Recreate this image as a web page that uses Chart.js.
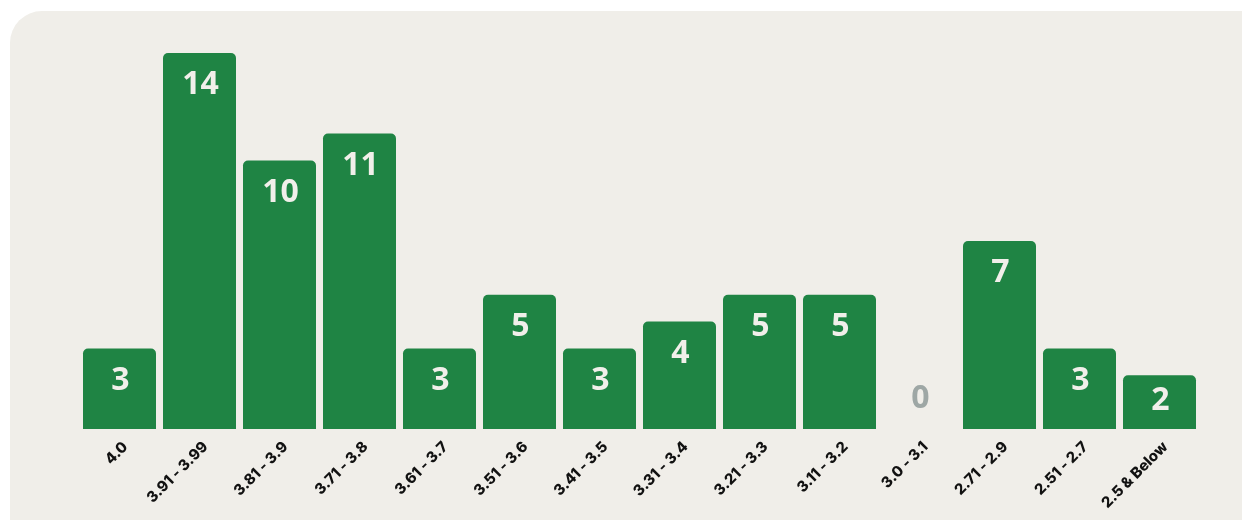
<!DOCTYPE html>
<html>
<head>
<meta charset="utf-8">
<script src="https://cdn.jsdelivr.net/npm/chart.js@4.4.1/dist/chart.umd.min.js"></script>
<style>
  html, body { margin: 0; padding: 0; background: #ffffff; }
  body { width: 1242px; height: 520px; position: relative; overflow: hidden; }
  .panel {
    position: absolute; left: 10px; top: 11px; width: 1270px; height: 540px;
    background: #f0eee9; border-radius: 32px;
  }
  .wrap { position: absolute; left: 0; top: 0; width: 1242px; height: 520px; }
</style>
</head>
<body>
<div class="panel"></div>
<div class="wrap"><canvas id="gpa-chart"></canvas></div>
<script>
// GPA ranges and number of students in each
var categories = ["4.0", "3.91 - 3.99", "3.81 - 3.9", "3.71 - 3.8", "3.61 - 3.7", "3.51 - 3.6",
  "3.41 - 3.5", "3.31 - 3.4", "3.21 - 3.3", "3.11 - 3.2", "3.0 - 3.1", "2.71 - 2.9",
  "2.51 - 2.7", "2.5 & Below"];
var counts = [3, 14, 10, 11, 3, 5, 3, 4, 5, 5, 0, 7, 3, 2];

var GREEN = "#1f8444";

// draws the count inside the top of each bar (grey above the axis when zero)
var valueLabels = {
  id: "valueLabels",
  afterDatasetsDraw: function (chart) {
    var ctx = chart.ctx;
    var meta = chart.getDatasetMeta(0);
    ctx.save();
    ctx.font = "bold 32px 'Open Sans', sans-serif";
    ctx.textAlign = "center";
    ctx.textBaseline = "middle";
    meta.data.forEach(function (bar, i) {
      var v = counts[i];
      if (v === 0) {
        ctx.fillStyle = "#9ea7a5";
        ctx.fillText(String(v), bar.x + 1, bar.base - 30);
      } else {
        ctx.fillStyle = "#f1efea";
        var off = Math.min(29, (bar.base - bar.y) / 2 - 4) + 3;
        ctx.fillText(String(v), bar.x + 1, bar.y + off);
      }
    });
    ctx.restore();
  }
};

new Chart(document.getElementById("gpa-chart"), {
  type: "bar",
  data: {
    labels: categories,
    datasets: [{
      data: counts,
      backgroundColor: GREEN,
      borderRadius: { topLeft: 5, topRight: 5, bottomLeft: 0, bottomRight: 0 },
      borderSkipped: "bottom",
      categoryPercentage: 1,
      barPercentage: 0.9125
    }]
  },
  options: {
    responsive: true,
    maintainAspectRatio: false,
    animation: false,
    layout: { padding: { top: 53, left: 79.5, right: 42.5, bottom: 0 } },
    plugins: { legend: { display: false }, tooltip: { enabled: false } },
    scales: {
      y: { display: false, min: 0, max: 14 },
      x: {
        grid: { display: false, drawTicks: false },
        border: { display: false },
        afterFit: function (scale) { scale.height = 91; },
        ticks: {
          minRotation: 45,
          maxRotation: 45,
          padding: 9,
          labelOffset: 6,
          color: "#111111",
          font: { family: "Inter, sans-serif", size: 15, weight: "800" }
        }
      }
    }
  },
  plugins: [valueLabels]
});
</script>
</body>
</html>
